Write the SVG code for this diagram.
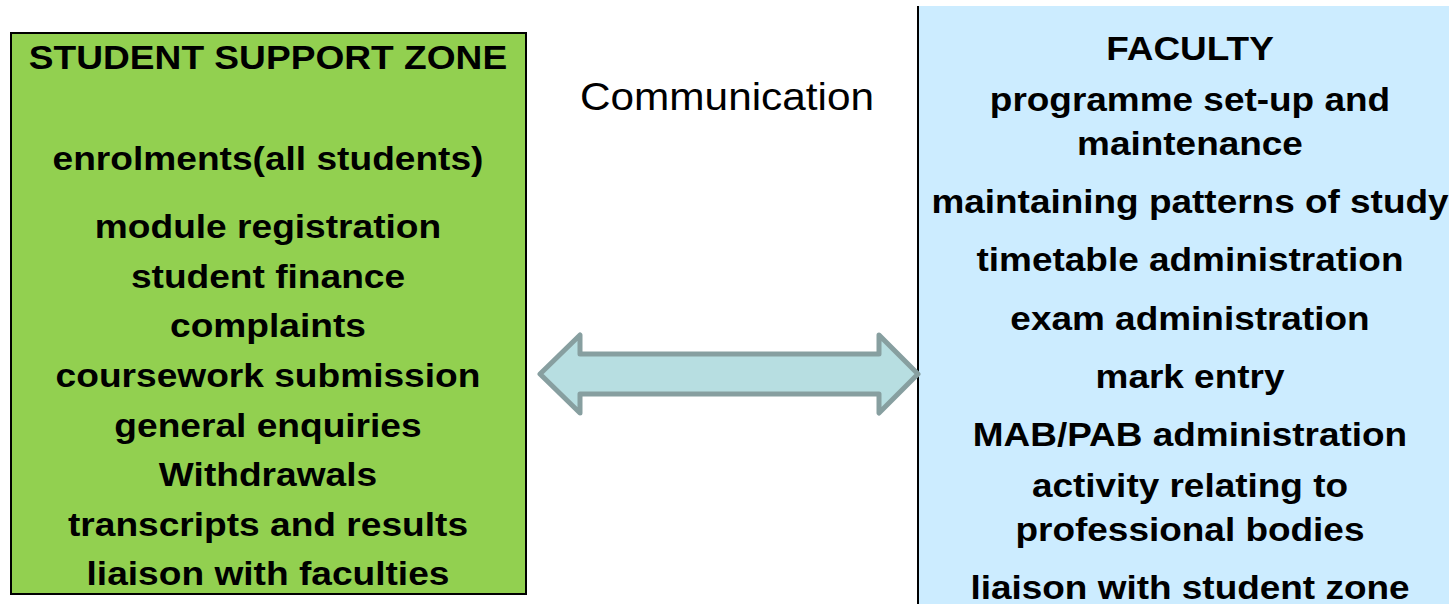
<svg xmlns="http://www.w3.org/2000/svg" width="1449" height="604" viewBox="0 0 1449 604">
<style>
.t{font-family:"Liberation Sans",Arial,sans-serif;font-weight:bold;font-size:33px;fill:#000;text-anchor:middle}
.c{font-family:"Liberation Sans",Arial,sans-serif;font-size:38px;fill:#000}
</style>
<rect width="1449" height="604" fill="#fff"/>
<g id="student-zone">
<rect x="11" y="33" width="515" height="561" fill="#92D050" stroke="#000" stroke-width="2"/>
<g transform="translate(268 0) scale(1.125 1) translate(-268 0)">
<text class="t" x="268" y="69">STUDENT SUPPORT ZONE</text>
<text class="t" x="268" y="170">enrolments(all students)</text>
<text class="t" x="268" y="238">module registration</text>
<text class="t" x="268" y="288">student finance</text>
<text class="t" x="268" y="337">complaints</text>
<text class="t" x="268" y="387">coursework submission</text>
<text class="t" x="268" y="437">general enquiries</text>
<text class="t" x="268" y="486">Withdrawals</text>
<text class="t" x="268" y="536">transcripts and results</text>
<text class="t" x="268" y="585">liaison with faculties</text>
</g>
</g>
<g id="faculty">
<rect x="918" y="6" width="540" height="610" fill="#CCECFF"/>
<line x1="918" y1="6" x2="918" y2="604" stroke="#000" stroke-width="2"/>
<g transform="translate(1190 0) scale(1.12 1) translate(-1190 0)">
<text class="t" x="1190" y="60">FACULTY</text>
<text class="t" x="1190" y="111">programme set-up and</text>
<text class="t" x="1190" y="155">maintenance</text>
<text class="t" x="1190" y="213">maintaining patterns of study</text>
<text class="t" x="1190" y="271">timetable administration</text>
<text class="t" x="1190" y="330">exam administration</text>
<text class="t" x="1190" y="388">mark entry</text>
<text class="t" x="1190" y="446">MAB/PAB administration</text>
<text class="t" x="1190" y="497">activity relating to</text>
<text class="t" x="1190" y="541">professional bodies</text>
<text class="t" x="1190" y="599">liaison with student zone</text>
</g>
</g>
<g id="connectors">
<path d="M540,374 L580,335 L580,354 L879,354 L879,335 L918,374 L879,413 L879,394 L580,394 L580,413 Z" fill="#B7DEE1" stroke="#879FA0" stroke-width="5" stroke-linejoin="round"/>
<text class="c" x="580" y="110" transform="translate(580 0) scale(1.114 1) translate(-580 0)">Communication</text>
</g>
</svg>
